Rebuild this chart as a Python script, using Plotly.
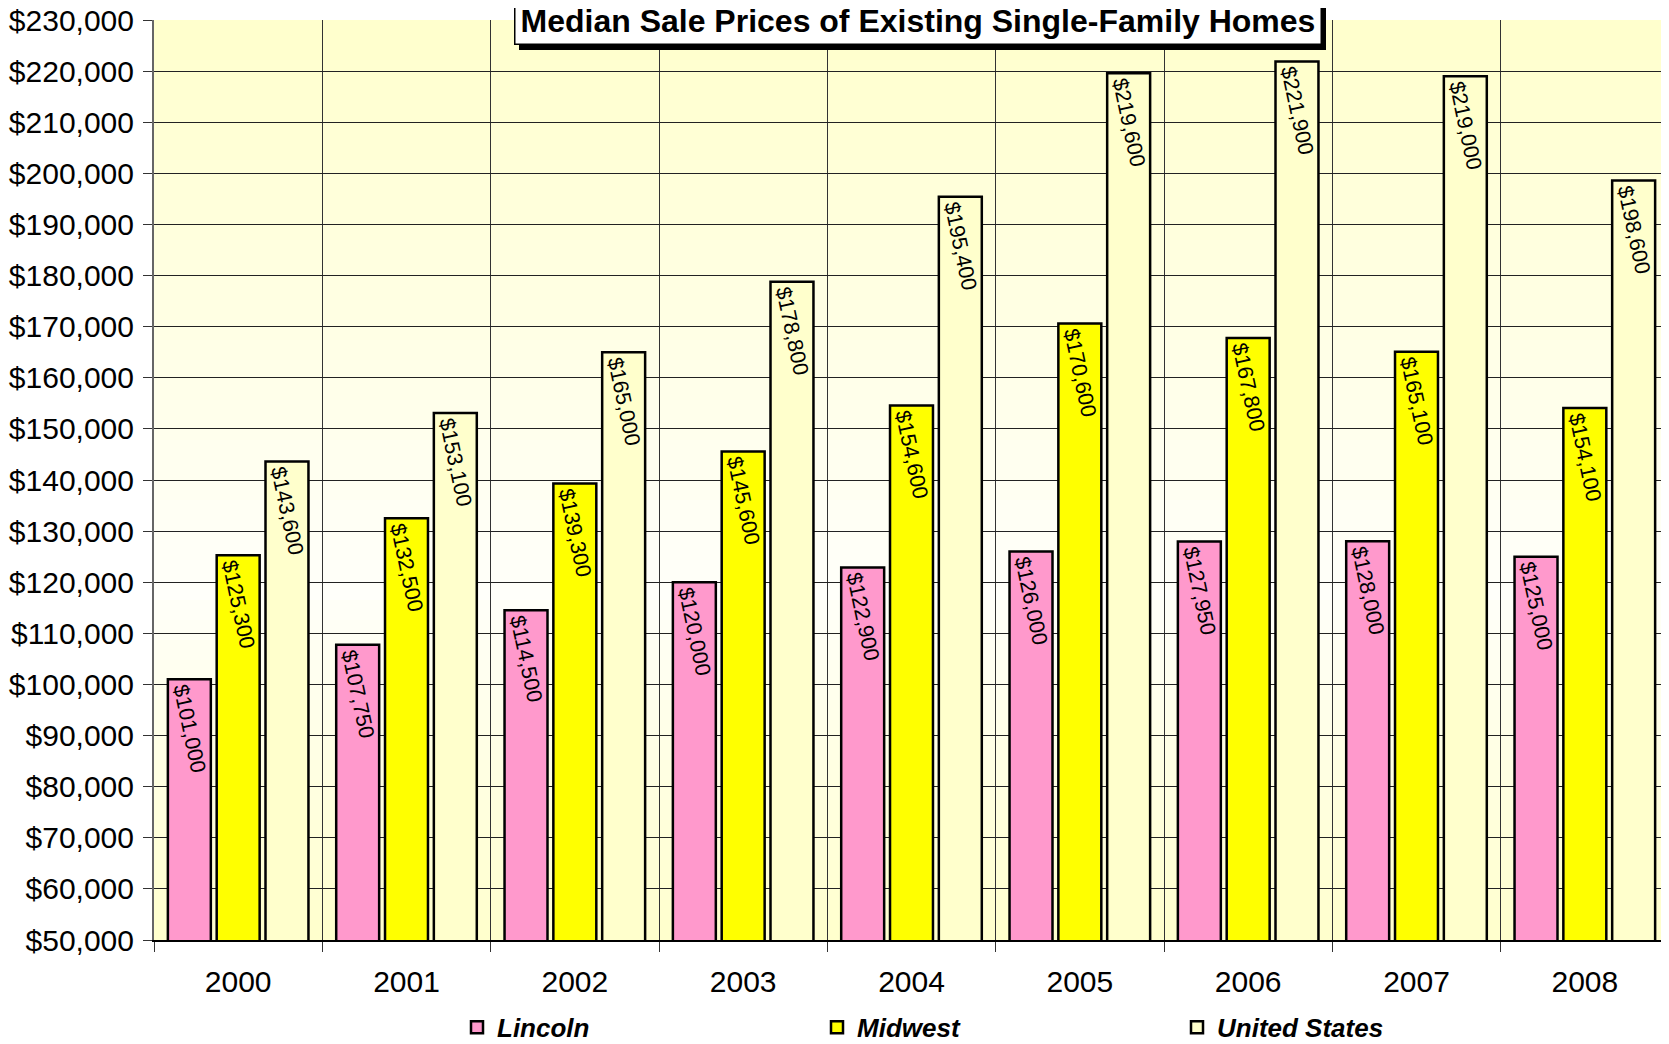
"""Median sale prices of existing single-family homes (Plotly)."""
import plotly.graph_objects as go

years = ["2000", "2001", "2002", "2003", "2004", "2005", "2006", "2007", "2008"]
lincoln = [101000, 107750, 114500, 120000, 122900, 126000, 127950, 128000, 125000]
midwest = [125300, 132500, 139300, 145600, 154600, 170600, 167800, 165100, 154100]
united_states = [143600, 153100, 165000, 178800, 195400, 219600, 221900, 219000, 198600]

FONT = "Liberation Sans, Arial, sans-serif"

fig = go.Figure()
for name, vals, color in [("Lincoln", lincoln, "#FF99CC"),
                          ("Midwest", midwest, "#FFFF00"),
                          ("United States", united_states, "#FFFFCC")]:
    fig.add_trace(go.Bar(
        x=years, y=vals, name=name,
        marker=dict(color=color, line=dict(color="black", width=2.5)),
        texttemplate="%{y:$,.0f}", textposition="inside", insidetextanchor="end",
        textangle=78, textfont=dict(family=FONT, size=21.5, color="black"),
        constraintext="none"))

# soft vertical gradient behind the plot: pale yellow -> near white -> pale yellow
top, mid, bot = (255, 255, 204), (255, 255, 250), (255, 255, 204)
n = 46
for i in range(n):
    f = (i + 0.5) / n  # paper y (0 bottom)
    if f < 0.38:
        t = f / 0.38
        c = [round(bot[k] + (mid[k] - bot[k]) * t) for k in range(3)]
    else:
        t = (f - 0.38) / 0.62
        c = [round(mid[k] + (top[k] - mid[k]) * t) for k in range(3)]
    fig.add_shape(type="rect", xref="paper", yref="paper", x0=0, x1=1,
                  y0=i / n, y1=(i + 1) / n, layer="below", line_width=0,
                  fillcolor=f"rgb({c[0]},{c[1]},{c[2]})")

title = "Median Sale Prices of Existing Single-Family Homes"
fig.add_annotation(text=title, xref="paper", yref="paper", x=0.504, y=0.973,
                   xanchor="center", yanchor="bottom", showarrow=False,
                   xshift=5, yshift=-5,
                   font=dict(family=FONT, size=32, color="black", weight="bold"),
                   bgcolor="black", bordercolor="black", borderwidth=1, borderpad=5)
fig.add_annotation(text=title, xref="paper", yref="paper", x=0.504, y=0.973,
                   xanchor="center", yanchor="bottom", showarrow=False,
                   font=dict(family=FONT, size=32, color="black", weight="bold"),
                   bgcolor="white", bordercolor="black", borderwidth=1.5, borderpad=5)

# the page body adds an 8px margin, so the figure is 8px smaller
fig.update_layout(
    width=1661, height=1036, barmode="group", bargap=0.13, bargroupgap=0.12,
    paper_bgcolor="white", plot_bgcolor="#FFFFF0",
    margin=dict(l=146, r=0, t=12, b=104, autoexpand=False),
    font=dict(family=FONT, color="black"),
    legend=dict(orientation="h", x=0.2, xanchor="left", y=-0.095, yanchor="middle",
                entrywidth=315, entrywidthmode="pixels",
                font=dict(family=FONT, size=26, weight="bold", style="italic")),
    xaxis=dict(tickson="boundaries", showgrid=True, gridcolor="#333333", gridwidth=1,
               ticks="outside", ticklen=10, tickcolor="#333333",
               showline=True, linecolor="black", linewidth=1.5,
               tickfont=dict(size=30), ticklabelstandoff=14, automargin=False),
    yaxis=dict(range=[50000, 230000], dtick=10000, tickformat="$,.0f",
               showgrid=True, gridcolor="#222222", gridwidth=1,
               ticks="outside", ticklen=9, tickcolor="#333333",
               showline=True, linecolor="#666666", linewidth=2,
               tickfont=dict(size=30), zeroline=False, automargin=False,
               ticklabelstandoff=3, ticklabeloverflow="allow"),
)

fig.write_html("out.html")
